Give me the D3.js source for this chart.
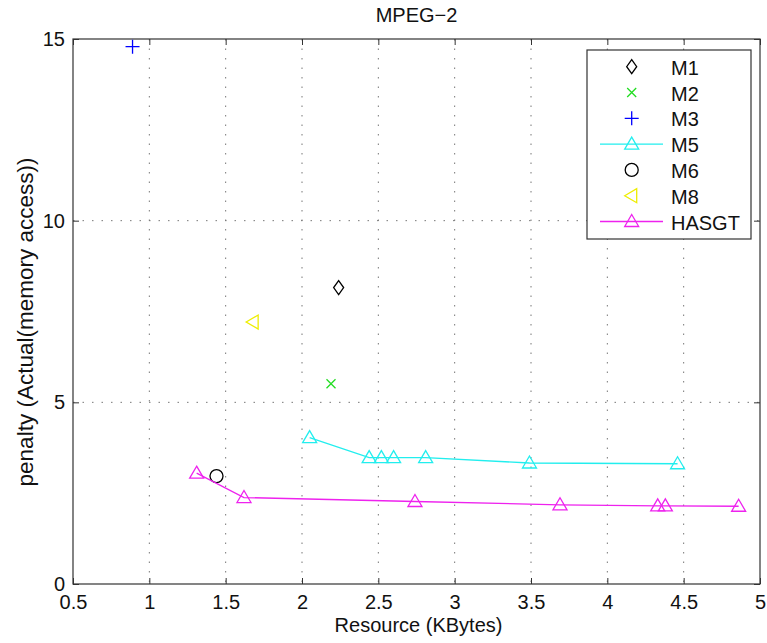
<!DOCTYPE html>
<html><head><meta charset="utf-8">
<script src="https://cdn.jsdelivr.net/npm/d3@7"></script>
<style>body{margin:0;background:#fff}svg{display:block}text{font-family:"Liberation Sans",Arial,sans-serif;fill:#111}</style>
</head><body><div id="chart"></div>
<script>
const xTicks=[0.5,1,1.5,2,2.5,3,3.5,4,4.5,5];
const yTicks=[0,5,10,15];
const m1X=[2.24], m1Y=[8.16];
const m2X=[2.19], m2Y=[5.51];
const m3X=[0.89], m3Y=[14.79];
const m5X=[2.05,2.44,2.52,2.60,2.81,3.49,4.46];
const m5Y=[4.03,3.48,3.48,3.48,3.48,3.33,3.31];
const m6X=[1.44], m6Y=[2.97];
const m8X=[1.68], m8Y=[7.21];
const hX=[1.31,1.62,2.74,3.69,4.33,4.38,4.86];
const hY=[3.05,2.38,2.27,2.18,2.15,2.15,2.14];
const legendLabels=["M1","M2","M3","M5","M6","M8","HASGT"];

const W=767,H=643,L=73,R=760,T=39,B=584;
const svg=d3.select("#chart").append("svg").attr("width",W).attr("height",H);
const x=d3.scaleLinear().domain([0.5,5]).range([L,R]);
const y=d3.scaleLinear().domain([0,15]).range([B,T]);
const FS="20px";

// grid
const g=svg.append("g");
g.selectAll(".gx").data(xTicks.slice(1,-1)).enter().append("line")
 .attr("x1",d=>x(d)).attr("x2",d=>x(d)).attr("y1",T).attr("y2",B)
 .attr("stroke","#777").attr("stroke-width",1).attr("stroke-dasharray","1.5,8");
g.selectAll(".gy").data(yTicks.slice(1,-1)).enter().append("line")
 .attr("y1",d=>y(d)).attr("y2",d=>y(d)).attr("x1",L).attr("x2",R)
 .attr("stroke","#777").attr("stroke-width",1).attr("stroke-dasharray","1.5,8");

// axes (inward ticks on all sides)
const tk=6;
const ax=svg.append("g").attr("transform",`translate(0,${B})`)
 .call(d3.axisBottom(x).tickValues(xTicks).tickSize(-tk).tickPadding(11).tickFormat(d=>String(d)));
const axT=svg.append("g").attr("transform",`translate(0,${T})`)
 .call(d3.axisTop(x).tickValues(xTicks).tickSize(-tk).tickFormat(""));
const ay=svg.append("g").attr("transform",`translate(${L},0)`)
 .call(d3.axisLeft(y).tickValues(yTicks).tickSize(-tk).tickPadding(8).tickFormat(d=>String(d)));
const ayR=svg.append("g").attr("transform",`translate(${R},0)`)
 .call(d3.axisRight(y).tickValues(yTicks).tickSize(-tk).tickFormat(""));
[ax,axT,ay,ayR].forEach(a=>{a.select(".domain").remove();a.selectAll("line").attr("stroke","#333");
 a.selectAll("text").style("font-size",FS).style("font-family","'Liberation Sans',Arial,sans-serif").attr("fill","#111");});
svg.append("rect").attr("x",L).attr("y",T).attr("width",R-L).attr("height",B-T)
 .attr("fill","none").attr("stroke","#333").attr("stroke-width",1.2);

// labels
svg.append("text").attr("x",(L+R)/2).attr("y",22).attr("text-anchor","middle").style("font-size",FS).text("MPEG\u22122");
svg.append("text").attr("x",(L+R)/2+2).attr("y",632).attr("text-anchor","middle").style("font-size",FS).text("Resource (KBytes)");
svg.append("text").attr("transform",`translate(33,322) rotate(-90)`).attr("text-anchor","middle").style("font-size","22.5px").text("penalty (Actual(memory access))");

function marker(type){
 switch(type){
  case "diamond": return "M0,-7L5,0L0,7L-5,0Z";
  case "x": return "M-4.5,-4.5L4.5,4.5M-4.5,4.5L4.5,-4.5";
  case "plus": return "M-7,0L7,0M0,-7L0,7";
  case "tri": return "M0,-7L7,5L-7,5Z";
  case "circle": return "M6.5,0A6.5,6.5 0 1 1 -6.5,0A6.5,6.5 0 1 1 6.5,0Z";
  case "triL": return "M-7,0L5,-7L5,7Z";
 }
}
const line=d3.line().x(d=>x(d[0])).y(d=>y(d[1]));
const series=[
 {X:m1X,Y:m1Y,c:"#000",m:"diamond",line:false},
 {X:m2X,Y:m2Y,c:"#22dd22",m:"x",line:false},
 {X:m3X,Y:m3Y,c:"#0000ff",m:"plus",line:false},
 {X:m5X,Y:m5Y,c:"#22eeee",m:"tri",line:true},
 {X:m6X,Y:m6Y,c:"#000",m:"circle",line:false},
 {X:m8X,Y:m8Y,c:"#eeee00",m:"triL",line:false},
 {X:hX,Y:hY,c:"#ee22ee",m:"tri",line:true}
];
series.forEach(s=>{
 const pts=s.X.map((v,i)=>[v,s.Y[i]]);
 if(s.line) svg.append("path").attr("d",line(pts)).attr("fill","none").attr("stroke",s.c).attr("stroke-width",1.3);
 svg.selectAll(null).data(pts).enter().append("path")
  .attr("transform",d=>`translate(${x(d[0])},${y(d[1])})`).attr("d",marker(s.m))
  .attr("fill","none").attr("stroke",s.c).attr("stroke-width",1.3);
});

// legend
const lg=svg.append("g");
lg.append("rect").attr("x",587).attr("y",50).attr("width",164).attr("height",189).attr("fill","#fff").attr("stroke","#333").attr("stroke-width",1.2);
series.forEach((s,i)=>{
 const yy=66.7+i*25.8;
 if(s.line) lg.append("line").attr("x1",600).attr("x2",663).attr("y1",yy).attr("y2",yy).attr("stroke",s.c).attr("stroke-width",1.3);
 lg.append("path").attr("transform",`translate(631.7,${yy})`).attr("d",marker(s.m)).attr("fill","none").attr("stroke",s.c).attr("stroke-width",1.3);
 lg.append("text").attr("x",671).attr("y",yy+8).style("font-size",FS).text(legendLabels[i]);
});
</script></body></html>
